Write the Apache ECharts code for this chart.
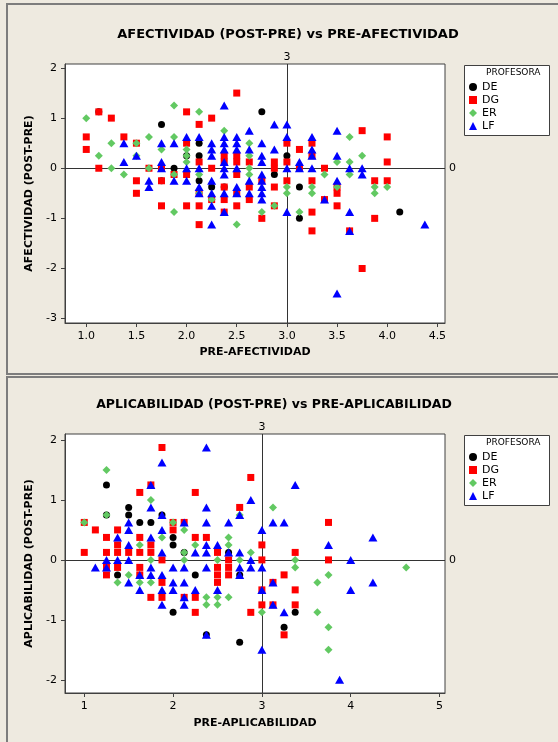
<!DOCTYPE html>
<html>
<head>
<meta charset="utf-8">
<script src="https://cdn.jsdelivr.net/npm/echarts@6.0.0/dist/echarts.min.js"></script>
<style>
html,body{margin:0;padding:0;background:#eeeae0;}
#main{width:558px;height:742px;}
</style>
</head>
<body>
<div id="main"></div>
<script>
// valores (x = pre, y = post-pre)
var profesoras = ['DE', 'DG', 'ER', 'LF'];

// AFECTIVIDAD
var afDE = [[1.125,1.125],[1.75,0.875],[1.75,-0.25],[1.875,0],[2.0,0.25],[2.125,0.5],[2.125,0.25],[2.125,-0.25],
  [2.25,-0.375],[2.375,-0.375],[2.75,1.125],[2.875,-0.125],[3.0,0.25],[3.125,-0.375],[3.125,-1.0],[4.125,-0.875]];
var afDG = [[1.0,0.625],[1.0,0.375],[1.125,1.125],[1.125,0],[1.25,1.0],[1.375,0.625],[1.5,0.5],[1.5,-0.25],[1.5,-0.5],
  [1.625,0],[1.75,0],[1.75,-0.25],[1.75,-0.75],[1.875,-0.125],[2.0,1.125],[2.0,0.5],[2.0,-0.125],[2.0,-0.75],
  [2.125,0.875],[2.125,0.125],[2.125,-0.5],[2.125,-0.75],[2.125,-1.125],[2.25,1.0],[2.25,0],[2.25,-0.625],
  [2.375,0.25],[2.375,0.125],[2.375,-0.375],[2.375,-0.625],[2.375,-0.875],[2.5,1.5],[2.5,0.25],[2.5,0.125],
  [2.5,-0.125],[2.5,-0.5],[2.5,-0.75],[2.625,0.125],[2.625,-0.375],[2.625,-0.625],[2.75,-0.25],[2.75,-1.0],
  [2.875,0.125],[2.875,0],[2.875,-0.375],[2.875,-0.75],[3.0,0.5],[3.0,0.125],[3.0,-0.25],[3.125,0.375],[3.125,0],
  [3.25,0.5],[3.25,0.25],[3.25,-0.25],[3.25,-0.875],[3.25,-1.25],[3.375,0],[3.375,-0.625],[3.5,-0.375],[3.5,-0.5],
  [3.5,-0.75],[3.625,-1.25],[3.75,0.75],[3.75,-2.0],[3.875,-0.25],[3.875,-1.0],[4.0,0.625],[4.0,0.125],[4.0,-0.25]];
var afER = [[1.0,1.0],[1.125,0.25],[1.25,0.5],[1.25,0],[1.375,-0.125],[1.5,0.5],[1.5,0.25],[1.625,0.625],[1.625,0],
  [1.75,0.375],[1.875,1.25],[1.875,0.625],[1.875,-0.125],[1.875,-0.875],[2.0,0.375],[2.0,0.25],[2.0,0.125],
  [2.125,1.125],[2.125,-0.125],[2.125,-0.5],[2.25,-0.625],[2.375,0.75],[2.5,-1.125],[2.625,0.5],[2.625,0.25],
  [2.625,0],[2.625,-0.125],[2.75,-0.875],[2.875,-0.75],[3.0,-0.375],[3.0,-0.5],[3.125,-0.875],[3.25,-0.375],
  [3.25,-0.5],[3.375,-0.125],[3.5,0.125],[3.5,-0.375],[3.625,0.625],[3.625,0.125],[3.625,-0.125],[3.75,0.25],
  [3.875,-0.375],[3.875,-0.5],[4.0,-0.375]];
var afLF = [[1.375,0.5],[1.375,0.125],[1.5,0.25],[1.625,-0.25],[1.625,-0.375],[1.75,0.5],[1.75,0.125],[1.75,0],
  [1.875,0.5],[1.875,-0.25],[2.0,0.625],[2.0,0],[2.0,-0.25],[2.125,0.625],[2.125,0],[2.125,-0.375],[2.125,-0.5],
  [2.25,0.5],[2.25,0.375],[2.25,0.25],[2.25,-0.25],[2.25,-0.5],[2.25,-0.75],[2.25,-1.125],[2.375,1.25],[2.375,0.625],
  [2.375,0.5],[2.375,0.375],[2.375,0.125],[2.375,0],[2.375,-0.125],[2.375,-0.5],[2.375,-0.875],[2.5,0.625],[2.5,0.5],
  [2.5,0.375],[2.5,0],[2.5,-0.375],[2.5,-0.5],[2.625,0.75],[2.625,0.375],[2.625,-0.25],[2.625,-0.5],[2.75,0.5],
  [2.75,0.25],[2.75,0.125],[2.75,-0.125],[2.75,-0.25],[2.75,-0.375],[2.75,-0.5],[2.75,-0.625],[2.875,0.875],
  [2.875,0.375],[3.0,0.875],[3.0,0.625],[3.0,0],[3.0,-0.875],[3.125,0.125],[3.125,0],[3.25,0.625],[3.25,0.375],
  [3.25,0.25],[3.25,0],[3.375,-0.625],[3.5,0.75],[3.5,0.25],[3.5,-0.25],[3.5,-2.5],[3.625,0],[3.625,-0.875],
  [3.625,-1.25],[3.75,0],[3.75,-0.125],[4.375,-1.125]];
var afXTicks = [1.0, 1.5, 2.0, 2.5, 3.0, 3.5, 4.0, 4.5];
var afYTicks = [-3, -2, -1, 0, 1, 2];

// APLICABILIDAD
var apDE = [[1.25,1.25],[1.25,0.75],[1.375,-0.25],[1.5,0.875],[1.5,0.75],[1.625,0.625],[1.75,0.625],[1.875,0.75],
  [2.0,0.375],[2.0,0.25],[2.0,-0.875],[2.125,0.125],[2.25,-0.25],[2.375,-1.25],[2.625,0.125],[2.75,-0.25],
  [2.75,-1.375],[3.25,-1.125],[3.375,-0.875]];
var apDG = [[1.0,0.625],[1.0,0.125],[1.125,0.5],[1.25,0.375],[1.25,0.125],[1.25,-0.125],[1.25,-0.25],[1.375,0.5],
  [1.375,0.25],[1.375,0.125],[1.375,-0.125],[1.5,0.125],[1.625,1.125],[1.625,0.375],[1.625,0.125],[1.625,-0.125],
  [1.625,-0.25],[1.75,1.25],[1.75,0.25],[1.75,0.125],[1.75,-0.625],[1.875,1.875],[1.875,0],[1.875,-0.375],
  [1.875,-0.625],[2.0,0.625],[2.0,0.5],[2.125,0.625],[2.125,-0.625],[2.25,1.125],[2.25,0.375],[2.25,-0.625],
  [2.25,-0.875],[2.375,0.375],[2.5,0.125],[2.5,-0.125],[2.5,-0.25],[2.5,-0.375],[2.625,0],[2.625,-0.125],
  [2.625,-0.25],[2.75,0.875],[2.875,1.375],[2.875,-0.875],[3.0,0.25],[3.0,0],[3.0,-0.5],[3.0,-0.75],[3.125,-0.375],
  [3.125,-0.75],[3.25,-0.25],[3.25,-1.25],[3.375,0.125],[3.375,-0.5],[3.375,-0.75],[3.75,0.625],[3.75,0]];
var apER = [[1.0,0.625],[1.25,1.5],[1.25,0.75],[1.375,-0.375],[1.5,-0.25],[1.625,0.25],[1.625,-0.375],[1.75,1.0],
  [1.75,0],[1.75,-0.375],[1.875,0.375],[2.0,0.625],[2.125,0.5],[2.125,0.125],[2.125,0],[2.25,0.25],[2.375,-0.625],
  [2.375,-0.75],[2.5,0],[2.5,-0.625],[2.5,-0.75],[2.625,0.375],[2.625,0.25],[2.625,-0.625],[2.75,0.75],[2.75,0],
  [2.875,0.125],[3.0,-0.875],[3.125,0.875],[3.375,0],[3.375,-0.125],[3.625,-0.375],[3.625,-0.875],[3.75,-0.25],
  [3.75,-1.125],[3.75,-1.5],[4.625,-0.125]];
var apLF = [[1.125,-0.125],[1.25,0],[1.25,-0.125],[1.375,0.375],[1.375,0],[1.5,0.625],[1.5,0.5],[1.5,0.25],[1.5,0],
  [1.5,-0.375],[1.625,-0.25],[1.625,-0.5],[1.75,1.25],[1.75,0.875],[1.75,0.375],[1.75,-0.125],[1.75,-0.25],
  [1.875,1.625],[1.875,0.75],[1.875,0.5],[1.875,0.125],[1.875,-0.25],[1.875,-0.5],[1.875,-0.75],[2.0,-0.125],
  [2.0,-0.375],[2.0,-0.5],[2.125,0.625],[2.125,-0.125],[2.125,-0.375],[2.125,-0.625],[2.125,-0.75],[2.25,0.125],
  [2.25,-0.5],[2.375,1.875],[2.375,0.875],[2.375,0.625],[2.375,0.25],[2.375,0.125],[2.375,-0.125],[2.375,-1.25],
  [2.5,0.25],[2.5,-0.5],[2.625,0.625],[2.625,0.125],[2.75,0.75],[2.75,0.125],[2.75,-0.125],[2.75,-0.25],[2.875,1.0],
  [2.875,0],[2.875,-0.125],[3.0,0.5],[3.0,-0.125],[3.0,-0.5],[3.0,-1.5],[3.125,0.625],[3.125,-0.375],[3.125,-0.75],
  [3.25,0.625],[3.25,-0.875],[3.375,1.25],[3.75,0.25],[3.875,-2.0],[4.0,0],[4.0,-0.5],[4.25,0.375],[4.25,-0.375]];
var apXTicks = [1, 2, 3, 4, 5];
var apYTicks = [-2, -1, 0, 1, 2];

var FONT = 'DejaVu Sans';
var AXC = '#404040';
var simbolos = {
  DE: {symbol: 'circle', symbolSize: 7, color: '#000000'},
  DG: {symbol: 'rect', symbolSize: 7, color: '#ff0000'},
  ER: {symbol: 'diamond', symbolSize: 8, color: '#62c962'},
  LF: {symbol: 'triangle', symbolSize: [9, 8], color: '#0000ff'}
};

var myChart = echarts.init(document.getElementById('main'));

function ejeX(idx, min, max, ticks, nombre, fmt, gap) {
  return {
    gridIndex: idx, type: 'value', min: min, max: max,
    axisLine: {show: true, onZero: false, lineStyle: {color: AXC}},
    axisTick: {show: true, length: 4, customValues: ticks, lineStyle: {color: AXC}},
    axisLabel: {customValues: ticks, formatter: fmt, margin: 8, color: '#000', fontSize: 11, fontFamily: FONT},
    splitLine: {show: false},
    name: nombre, nameLocation: 'middle', nameGap: gap,
    nameTextStyle: {fontFamily: FONT, fontWeight: 'bold', fontSize: 11, color: '#000'}
  };
}
function ejeY(idx, min, max, ticks, nombre) {
  return {
    gridIndex: idx, type: 'value', min: min, max: max,
    axisLine: {show: true, onZero: false, lineStyle: {color: AXC}},
    axisTick: {show: true, length: 4, customValues: ticks, lineStyle: {color: AXC}},
    axisLabel: {customValues: ticks, margin: 8, color: '#000', fontSize: 11, fontFamily: FONT},
    splitLine: {show: false},
    name: nombre, nameLocation: 'middle', nameGap: 28,
    nameTextStyle: {fontFamily: FONT, fontWeight: 'bold', fontSize: 11, color: '#000'}
  };
}
function serie(nombre, datos, idx) {
  var s = simbolos[nombre];
  return {
    name: nombre, type: 'scatter', xAxisIndex: idx, yAxisIndex: idx, data: datos,
    symbol: s.symbol, symbolSize: s.symbolSize, itemStyle: {color: s.color, opacity: 1}
  };
}
function referencia(idx) {
  return {
    name: 'ref' + idx, type: 'scatter', xAxisIndex: idx, yAxisIndex: idx, data: [], silent: true,
    markLine: {
      silent: true, symbol: 'none', animation: false, z: 1,
      lineStyle: {color: '#333', type: 'solid', width: 1},
      label: {color: '#000', fontSize: 11, fontFamily: FONT},
      data: [
        {xAxis: 3, label: {formatter: '3', position: 'end', distance: 1}},
        {yAxis: 0, label: {formatter: '0', position: 'end', distance: 4}}
      ]
    }
  };
}
function leyenda(top) {
  return {
    data: profesoras, orient: 'vertical', left: 469, top: top,
    itemWidth: 8, itemHeight: 8, itemGap: 0, selectedMode: false, padding: 0,
    textStyle: {fontFamily: FONT, fontSize: 11, color: '#000', lineHeight: 13}
  };
}

var option = {
  backgroundColor: '#eeeae0',
  animation: false,
  title: [
    {text: 'AFECTIVIDAD (POST-PRE) vs PRE-AFECTIVIDAD', left: 283, top: 23, textAlign: 'center',
      textStyle: {fontFamily: FONT, fontWeight: 'bold', fontSize: 13, color: '#000'}},
    {text: 'APLICABILIDAD (POST-PRE) vs PRE-APLICABILIDAD', left: 269, top: 393, textAlign: 'center',
      textStyle: {fontFamily: FONT, fontWeight: 'bold', fontSize: 12.5, color: '#000'}}
  ],
  grid: [
    {left: 65, top: 64, width: 380, height: 259, show: true, backgroundColor: '#fff', borderColor: AXC, borderWidth: 1},
    {left: 65, top: 434, width: 380, height: 259, show: true, backgroundColor: '#fff', borderColor: AXC, borderWidth: 1}
  ],
  xAxis: [
    ejeX(0, 0.788, 4.576, afXTicks, 'PRE-AFECTIVIDAD', function (v) { return v.toFixed(1); }, 24),
    ejeX(1, 0.783, 5.062, apXTicks, 'PRE-APLICABILIDAD', function (v) { return String(v); }, 25)
  ],
  yAxis: [
    ejeY(0, -3.088, 2.08, afYTicks, 'AFECTIVIDAD (POST-PRE)'),
    ejeY(1, -2.22, 2.10, apYTicks, 'APLICABILIDAD (POST-PRE)')
  ],
  legend: [leyenda(80.5), leyenda(450.5)],
  graphic: [
    {type: 'rect', z: -1, shape: {x: 7, y: 4, width: 560, height: 370}, style: {fill: 'none', stroke: '#7d7d7d', lineWidth: 2}},
    {type: 'rect', z: -1, shape: {x: 7, y: 377, width: 560, height: 380}, style: {fill: 'none', stroke: '#7d7d7d', lineWidth: 2}},
    {type: 'rect', z: 0, shape: {x: 464.5, y: 65.5, width: 85, height: 70}, style: {fill: '#fff', stroke: AXC, lineWidth: 1}},
    {type: 'rect', z: 0, shape: {x: 464.5, y: 435.5, width: 85, height: 70}, style: {fill: '#fff', stroke: AXC, lineWidth: 1}},
    {type: 'text', z: 5, x: 486, y: 73, style: {text: 'PROFESORA', font: '9px "DejaVu Sans"', fill: '#000', verticalAlign: 'middle'}},
    {type: 'text', z: 5, x: 486, y: 443, style: {text: 'PROFESORA', font: '9px "DejaVu Sans"', fill: '#000', verticalAlign: 'middle'}}
  ],
  series: [
    referencia(0),
    serie('DE', afDE, 0), serie('DG', afDG, 0), serie('ER', afER, 0), serie('LF', afLF, 0),
    referencia(1),
    serie('DE', apDE, 1), serie('DG', apDG, 1), serie('ER', apER, 1), serie('LF', apLF, 1)
  ]
};
myChart.setOption(option);
</script>
</body>
</html>
